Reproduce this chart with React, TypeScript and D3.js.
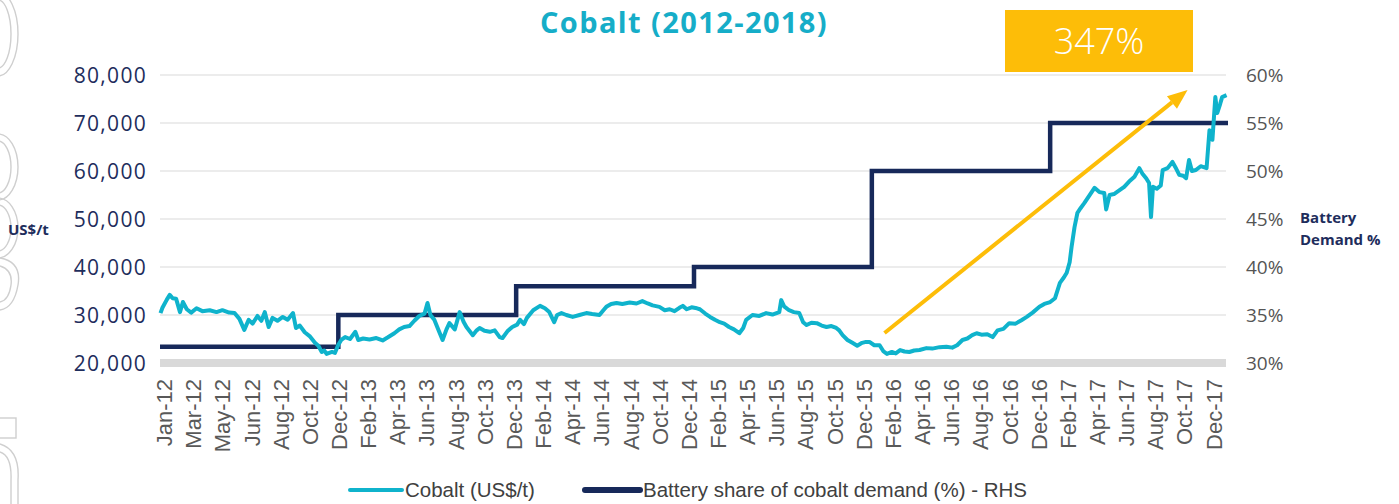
import React from 'react';
import * as d3 from 'd3';

const W = 1399;
const H = 504;

const titleText = 'Cobalt (2012-2018)';
const calloutText = '347%';
const leftTicks = [20000, 30000, 40000, 50000, 60000, 70000, 80000];
const rightTicks = [30, 35, 40, 45, 50, 55, 60];
const xLabels = [
  'Jan-12', 'Mar-12', 'May-12', 'Jun-12', 'Aug-12', 'Oct-12', 'Dec-12',
  'Feb-13', 'Apr-13', 'Jun-13', 'Aug-13', 'Oct-13', 'Dec-13',
  'Feb-14', 'Apr-14', 'Jun-14', 'Aug-14', 'Oct-14', 'Dec-14',
  'Feb-15', 'Apr-15', 'Jun-15', 'Aug-15', 'Oct-15', 'Dec-15',
  'Feb-16', 'Apr-16', 'Jun-16', 'Aug-16', 'Oct-16', 'Dec-16',
  'Feb-17', 'Apr-17', 'Jun-17', 'Aug-17', 'Oct-17', 'Dec-17',
];

const batteryYears = ['2012-01-01', '2013-01-01', '2014-01-01', '2015-01-01', '2016-01-01', '2017-01-01', '2018-01-01'];
const batteryShare = [31.7, 35, 38, 40, 50, 55, 55];

const cobaltPrice: [string, number][] = [
  ['2012-01-02', 30400], ['2012-01-06', 31500], ['2012-01-15', 33200], ['2012-01-21', 34200],
  ['2012-01-27', 33500], ['2012-02-03', 33400], ['2012-02-11', 30600], ['2012-02-17', 32700],
  ['2012-02-25', 31200], ['2012-03-05', 30500], ['2012-03-16', 31400], ['2012-03-28', 30800],
  ['2012-04-12', 31000], ['2012-04-26', 30600], ['2012-05-08', 31000], ['2012-05-22', 30500],
  ['2012-06-02', 30400], ['2012-06-12', 29200], ['2012-06-22', 26900], ['2012-07-01', 29000],
  ['2012-07-09', 28200], ['2012-07-19', 29800], ['2012-07-27', 28800], ['2012-08-03', 30600],
  ['2012-08-11', 27500], ['2012-08-19', 29400], ['2012-08-29', 28800], ['2012-09-09', 29600],
  ['2012-09-19', 29000], ['2012-09-30', 30400], ['2012-10-06', 27300], ['2012-10-14', 27800],
  ['2012-10-24', 26400], ['2012-11-03', 25600], ['2012-11-14', 24200], ['2012-11-21', 23600],
  ['2012-11-28', 22300], ['2012-12-03', 22600], ['2012-12-08', 21900], ['2012-12-19', 22300],
  ['2012-12-25', 22100], ['2013-01-01', 23800], ['2013-01-07', 24800], ['2013-01-15', 25400],
  ['2013-01-25', 25000], ['2013-02-05', 26500], ['2013-02-11', 24800], ['2013-02-21', 25100],
  ['2013-03-06', 24900], ['2013-03-20', 25200], ['2013-04-02', 24700], ['2013-04-12', 25300],
  ['2013-04-26', 26200], ['2013-05-06', 27000], ['2013-05-16', 27500], ['2013-05-27', 27700],
  ['2013-06-06', 28800], ['2013-06-16', 29800], ['2013-06-27', 30300], ['2013-07-03', 32500],
  ['2013-07-09', 30000], ['2013-07-17', 29000], ['2013-07-27', 26500], ['2013-08-03', 24800],
  ['2013-08-11', 27000], ['2013-08-17', 28300], ['2013-08-28', 27000], ['2013-09-07', 30600],
  ['2013-09-15', 28600], ['2013-09-21', 27500], ['2013-10-04', 25800], ['2013-10-12', 26800],
  ['2013-10-18', 27300], ['2013-10-28', 26700], ['2013-11-08', 26500], ['2013-11-18', 26800],
  ['2013-11-28', 25400], ['2013-12-04', 25200], ['2013-12-14', 26600], ['2013-12-24', 27500],
  ['2014-01-03', 28000], ['2014-01-09', 29000], ['2014-01-17', 28100], ['2014-01-23', 29400],
  ['2014-02-05', 31000], ['2014-02-19', 31900], ['2014-03-01', 31400], ['2014-03-10', 30600],
  ['2014-03-20', 28500], ['2014-03-26', 30000], ['2014-04-04', 30400], ['2014-04-14', 30000],
  ['2014-04-27', 29600], ['2014-05-11', 30000], ['2014-05-25', 30400], ['2014-06-06', 30200],
  ['2014-06-21', 30000], ['2014-06-29', 31000], ['2014-07-05', 31700], ['2014-07-15', 32300],
  ['2014-07-26', 32500], ['2014-08-07', 32300], ['2014-08-22', 32600], ['2014-09-05', 32400],
  ['2014-09-17', 32900], ['2014-09-28', 32400], ['2014-10-08', 32000], ['2014-10-22', 31700],
  ['2014-11-02', 31000], ['2014-11-12', 31200], ['2014-11-22', 30800], ['2014-12-02', 31500],
  ['2014-12-09', 31900], ['2014-12-17', 31200], ['2014-12-27', 31600], ['2015-01-07', 31400],
  ['2015-01-13', 31200], ['2015-01-24', 30300], ['2015-02-03', 29600], ['2015-02-13', 29000],
  ['2015-02-23', 28500], ['2015-03-04', 28200], ['2015-03-14', 27500], ['2015-03-24', 27000],
  ['2015-04-04', 26200], ['2015-04-12', 27300], ['2015-04-18', 29000], ['2015-05-01', 30000],
  ['2015-05-15', 29800], ['2015-05-29', 30400], ['2015-06-11', 30100], ['2015-06-25', 30600],
  ['2015-06-29', 33100], ['2015-07-05', 31800], ['2015-07-15', 31000], ['2015-07-25', 30600],
  ['2015-08-05', 30400], ['2015-08-13', 28500], ['2015-08-20', 27900], ['2015-08-30', 28400],
  ['2015-09-10', 28300], ['2015-09-20', 27800], ['2015-09-30', 27500], ['2015-10-10', 27700],
  ['2015-10-20', 27300], ['2015-10-26', 26800], ['2015-11-02', 25800], ['2015-11-12', 24800],
  ['2015-11-22', 24200], ['2015-12-02', 23600], ['2015-12-12', 24200], ['2015-12-20', 24400],
  ['2015-12-27', 24400], ['2016-01-06', 23700], ['2016-01-17', 23700], ['2016-01-25', 22400],
  ['2016-02-01', 21900], ['2016-02-11', 22300], ['2016-02-19', 22000], ['2016-02-28', 22700],
  ['2016-03-08', 22400], ['2016-03-18', 22300], ['2016-03-28', 22600], ['2016-04-08', 22700],
  ['2016-04-22', 23100], ['2016-05-04', 23000], ['2016-05-19', 23300], ['2016-06-02', 23400],
  ['2016-06-14', 23200], ['2016-06-24', 23700], ['2016-07-05', 24800], ['2016-07-15', 25100],
  ['2016-07-25', 25800], ['2016-08-03', 26200], ['2016-08-13', 25900], ['2016-08-25', 26000],
  ['2016-09-05', 25400], ['2016-09-15', 26800], ['2016-09-27', 27100], ['2016-10-09', 28300],
  ['2016-10-22', 28200], ['2016-11-03', 28900], ['2016-11-14', 29600], ['2016-11-26', 30500],
  ['2016-12-10', 31700], ['2016-12-20', 32300], ['2017-01-01', 32700], ['2017-01-11', 33500],
  ['2017-01-21', 36700], ['2017-01-29', 37800], ['2017-02-04', 38800], ['2017-02-10', 41000],
  ['2017-02-14', 44200], ['2017-02-20', 48300], ['2017-02-26', 51300], ['2017-03-04', 52200],
  ['2017-03-12', 53300], ['2017-03-22', 54800], ['2017-04-02', 56500], ['2017-04-12', 55600],
  ['2017-04-22', 55400], ['2017-04-26', 52000], ['2017-05-03', 55000], ['2017-05-12', 55200],
  ['2017-05-22', 55900], ['2017-06-02', 56700], ['2017-06-12', 57800], ['2017-06-23', 58800],
  ['2017-07-03', 60600], ['2017-07-09', 59500], ['2017-07-17', 58500], ['2017-07-23', 57500],
  ['2017-07-27', 50400], ['2017-07-31', 56700], ['2017-08-08', 56300], ['2017-08-16', 57000],
  ['2017-08-20', 60200], ['2017-08-30', 60600], ['2017-09-09', 61900], ['2017-09-15', 60800],
  ['2017-09-23', 59200], ['2017-10-01', 59000], ['2017-10-07', 58500], ['2017-10-13', 62300],
  ['2017-10-19', 60000], ['2017-10-27', 60200], ['2017-11-06', 61000], ['2017-11-18', 60600],
  ['2017-11-24', 68500], ['2017-11-30', 66500], ['2017-12-06', 75400], ['2017-12-10', 72100],
  ['2017-12-16', 74000], ['2017-12-20', 75400], ['2017-12-29', 75800],
];

// arrow annotation endpoints in data space
const arrowFrom: [string, number] = ['2016-01-27', 26250];
const arrowTo: [string, number] = ['2017-10-10', 76900];

const legendItems = [
  { label: 'Cobalt (US$/t)', color: '#0fb3cc', width: 4 },
  { label: 'Battery share of cobalt demand (%) - RHS', color: '#17295a', width: 6 },
];

const TEAL = '#0fb3cc';
const NAVY = '#17295a';
const GOLD = '#fdbd08';
const GRID = '#d9d9d9';

const parse = d3.timeParse('%Y-%m-%d');

export default function App() {
  const x = d3.scaleTime()
    .domain([parse('2012-01-01')!, parse('2018-01-01')!])
    .range([160, 1228]);
  const yL = d3.scaleLinear().domain([20000, 80000]).range([363, 75]);
  const yR = d3.scaleLinear().domain([30, 60]).range([363, 75]);
  const xl = d3.scalePoint<string>()
    .domain(xLabels)
    .range([x(parse('2012-01-10')!), x(parse('2017-12-03')!)]);

  const priceLine = d3.line<[string, number]>()
    .x((d) => x(parse(d[0])!))
    .y((d) => yL(d[1]))
    .curve(d3.curveLinear)(cobaltPrice) as string;

  const stepData = batteryYears.map((d, i) => [x(parse(d)!), yR(batteryShare[i])] as [number, number]);
  const stepLine = d3.line().curve(d3.curveStepAfter)(stepData) as string;

  const ax0 = x(parse(arrowFrom[0])!);
  const ay0 = yL(arrowFrom[1]);
  const ax1 = x(parse(arrowTo[0])!);
  const ay1 = yL(arrowTo[1]);
  const ang = Math.atan2(ay1 - ay0, ax1 - ax0);
  const headL = 20;
  const headW = 8;
  const bx = ax1 - headL * Math.cos(ang);
  const by = ay1 - headL * Math.sin(ang);
  const px = -Math.sin(ang);
  const py = Math.cos(ang);
  const head = `M${ax1},${ay1}L${bx + px * headW},${by + py * headW}L${bx - px * headW},${by - py * headW}Z`;

  const gx0 = x.range()[0];
  const gx1 = x.range()[1] - 2;

  const wm = '#cfcfcf';

  return (
    <svg width={W} height={H} style={{ position: 'absolute', left: 0, top: 0, background: '#fff' }}>
      {/* watermark fragments on left edge */}
      <g fill="none" stroke={wm} strokeWidth={1.4}>
        <ellipse cx={-2} cy={34} rx={20} ry={42} />
        <ellipse cx={-2} cy={34} rx={13} ry={34} />
        <ellipse cx={-2} cy={167} rx={20} ry={33} />
        <ellipse cx={-2} cy={167} rx={13} ry={26} />
        <ellipse cx={-2} cy={228} rx={20} ry={30} />
        <ellipse cx={-2} cy={228} rx={13} ry={23} />
        <path d="M0,258 Q22,262 18,285 Q14,308 0,310" />
        <path d="M0,266 Q13,270 11,285 Q9,300 0,302" />
        <rect x={-6} y={418} width={22} height={20} />
        <path d="M0,444 Q20,450 18,480 L18,504" />
        <path d="M0,452 Q12,456 11,480 L11,504" />
      </g>

      <text x={684} y={33} textAnchor="middle" fill="#16adc8" fontFamily="'Open Sans', sans-serif" fontWeight={700} fontSize={29} letterSpacing={1.4}>
        {titleText}
      </text>

      {/* gridlines */}
      {leftTicks.filter((t) => t > 20000).map((t) => (
        <line key={t} x1={gx0} x2={gx1} y1={yL(t)} y2={yL(t)} stroke={GRID} strokeWidth={1.2} />
      ))}
      <rect x={gx0} y={yL(20000) - 4} width={gx1 - gx0} height={8} fill={GRID} />

      {/* left axis */}
      {leftTicks.map((t) => (
        <text key={t} x={147} y={yL(t)} dy="0.36em" textAnchor="end" fill="#1e2d5c"
          fontFamily="'Open Sans', sans-serif" fontSize={21} letterSpacing={1.3}>
          {d3.format(',')(t)}
        </text>
      ))}
      <text x={8} y={230} dy="0.35em" fill="#1e2d5c" fontFamily="'Open Sans', sans-serif" fontWeight={700} fontSize={15}>US$/t</text>

      {/* right axis */}
      {rightTicks.map((t) => (
        <text key={t} x={1246} y={yR(t)} dy="0.36em" textAnchor="start" fill="#555555"
          fontFamily="'Open Sans', sans-serif" fontSize={19}>
          {t}%
        </text>
      ))}
      <text x={1300} y={218} dy="0.35em" fill="#1e2d5c" fontFamily="'Open Sans', sans-serif" fontWeight={700} fontSize={15}>Battery</text>
      <text x={1300} y={240} dy="0.35em" fill="#1e2d5c" fontFamily="'Open Sans', sans-serif" fontWeight={700} fontSize={15}>Demand %</text>

      {/* x labels */}
      {xLabels.map((l) => (
        <text key={l} transform={`translate(${xl(l)},379) rotate(-90)`} dy="0.35em" textAnchor="end"
          fill="#595959" fontFamily="'Liberation Sans Narrow', 'Arial Narrow', sans-serif" fontSize={22}>
          {l}
        </text>
      ))}

      {/* series */}
      <path d={stepLine} fill="none" stroke={NAVY} strokeWidth={4.5} strokeLinejoin="miter" />
      <path d={priceLine} fill="none" stroke={TEAL} strokeWidth={4} strokeLinejoin="round" />

      {/* arrow annotation */}
      <line x1={ax0} y1={ay0} x2={bx} y2={by} stroke={GOLD} strokeWidth={4} />
      <path d={head} fill={GOLD} />

      {/* callout box */}
      <rect x={1005} y={10} width={188} height={62} fill={GOLD} />
      <text x={1099} y={41} dy="0.36em" textAnchor="middle" fill="#ffffff" fontFamily="'Open Sans', sans-serif" fontWeight={300} fontSize={36}>
        {calloutText}
      </text>

      {/* legend */}
      {legendItems.map((it, i) => {
        const lx = i === 0 ? 350 : 585;
        const len = i === 0 ? 52 : 55;
        return (
          <g key={it.label}>
            <line x1={lx} x2={lx + len} y1={490} y2={490} stroke={it.color} strokeWidth={it.width} strokeLinecap="round" />
            <text x={lx + len + 3} y={490} dy="0.35em" fill="#404040"
              fontFamily="'Liberation Sans Narrow', 'Arial Narrow', sans-serif" fontSize={20.5}>
              {it.label}
            </text>
          </g>
        );
      })}
    </svg>
  );
}
